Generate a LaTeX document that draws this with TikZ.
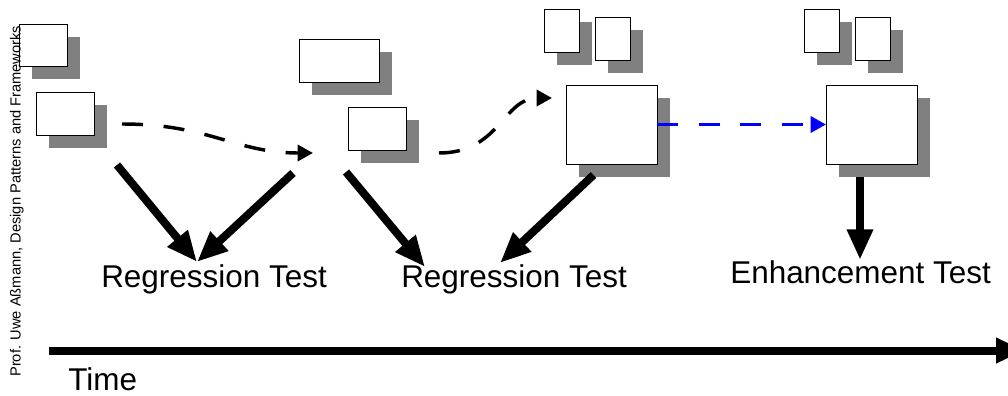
\documentclass[tikz,border=0pt]{standalone}
\usepackage{fontspec}
\setmainfont{Liberation Sans}
\usetikzlibrary{arrows.meta,shadows}
\definecolor{shadowgray}{HTML}{808080}
\definecolor{flowblue}{HTML}{0000FF}

\begin{document}
\begin{tikzpicture}[x=0.75pt,y=-0.75pt,
  doc/.style 2 args={rectangle, draw=black, line width=0.75pt, fill=white,
    inner sep=0pt, outer sep=0pt, minimum width=#1, minimum height=#2,
    general shadow={fill=shadowgray, shadow xshift=9.4pt, shadow yshift=-9.4pt}},
  bigarrow/.style={line width=6pt, -{Triangle[length=23pt,width=18.5pt]}},
  flow/.style={line width=2.6pt, dash pattern=on 15.75pt off 15.5pt,
    -{Triangle[length=11.5pt,width=12pt]}},
  caption/.style={font=\fontsize{23.6}{28}\selectfont, inner sep=0pt, anchor=base west},
]
\useasboundingbox (0,0) rectangle (1008,396);
\clip (0,0) rectangle (1008,396);

% first version
\node[doc={36pt}{31.5pt}]    (A1) at (43,45)      {};
\node[doc={43.5pt}{32.25pt}] (A2) at (65,113.5)   {};
% second version
\node[doc={60pt}{32.25pt}]   (B1) at (339,60.5)   {};
\node[doc={43.5pt}{32.25pt}] (B2) at (377,128.5)  {};
% third version
\node[doc={26.25pt}{32.25pt}] (C1) at (561.5,30.5) {};
\node[doc={26.25pt}{32.25pt}] (C2) at (612.5,38.5) {};
\node[doc={68.25pt}{59.25pt}] (C3) at (611.5,124.5) {};
% fourth version
\node[doc={26.25pt}{32.25pt}] (D1) at (821.5,30.5) {};
\node[doc={26.25pt}{32.25pt}] (D2) at (872.5,38.5) {};
\node[doc={68.25pt}{59.25pt}] (D3) at (871.5,124.5) {};

% test labels
\node[caption] (rt1) at (101,287) {Regression Test};
\node[caption] (rt2) at (401,287) {Regression Test};
\node[caption] (et)  at (730,283) {Enhancement Test};
\node[caption] (time) at (68,390) {Time};

% evolution steps
\draw[flow] ([shift={(28,10.5)}]A2.east)
  .. controls +(88,0) and +(-78,0) .. ([shift={(-35,24.5)}]B2.west);
\draw[flow] ([shift={(33,24.5)}]B2.east)
  .. controls +(61,0) and +(-49,0) .. ([shift={(-14,-26.5)}]C3.west);
\draw[flow, color=flowblue] (C3.east) -- (D3.west);

% test arrows
\draw[bigarrow] ([shift={(23,30)}]A2.south east) -- ([shift={(96,-2)}]rt1.north west);
\draw[bigarrow] ([shift={(-55,23)}]B2.south west) -- ([shift={(96,-2)}]rt1.north west);
\draw[bigarrow] ([shift={(-2,22)}]B2.south west) -- ([shift={(24,3)}]rt2.north west);
\draw[bigarrow] ([shift={(-18,11)}]C3.south) -- ([shift={(99,-1)}]rt2.north west);
\draw[bigarrow] ([shift={(-11.5,13)}]D3.south) -- ([shift={(130,0)}]et.north west);

% time axis
\coordinate (tstart) at (49,350.5);
\coordinate (tend) at (1024,350.5);
\draw[line width=6pt, -{Triangle[length=21pt,width=18pt]}] (tstart) -- (tend);

% footer
\node[rotate=90, anchor=base west, inner sep=0pt, font=\fontsize{11}{13}\selectfont]
  (credit) at (20.5,377) {Prof. Uwe Aßmann, Design Patterns and Frameworks};
\end{tikzpicture}
\end{document}
